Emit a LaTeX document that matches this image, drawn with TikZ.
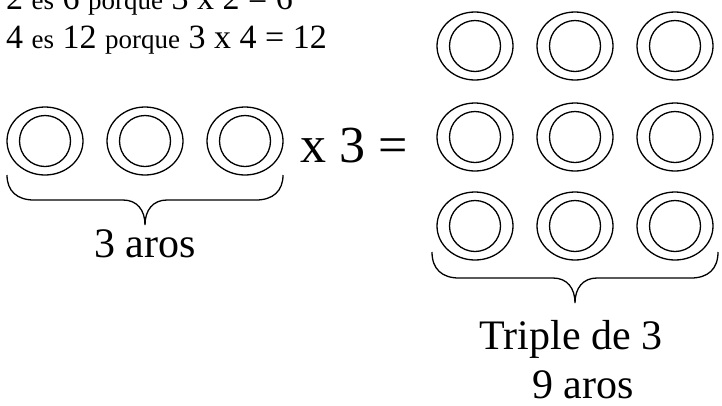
\documentclass[tikz,border=0pt]{standalone}
\usepackage{fontspec}
\setmainfont{Liberation Serif}

\newcommand\numsz{\fontsize{34}{40}\selectfont}
\newcommand\wordsz{\fontsize{27}{32}\selectfont}

\begin{document}
\begin{tikzpicture}[x=1pt, y=-1pt,
  ring/.style={line width=1.3pt},
  brc/.style={line width=1.3pt},
  top/.style={inner sep=0pt, anchor=base west},
  lbl/.style={inner sep=0pt, anchor=base, font=\fontsize{42}{48}\selectfont}]
\useasboundingbox (0,0) rectangle (722,405);
% a ring: outer ellipse and inner circle
\newcommand\aro[2]{\draw[ring] (#1,#2) ellipse [x radius=38pt, y radius=34pt]
  (#1,#2) circle [radius=25.5pt];}
\node[top] (ln1) at (6,9) {\numsz 2 {\wordsz es} 6 {\wordsz porque} 3 x 2 = 6};
\node[top] (ln2) at (6,48) {\numsz 4 {\wordsz es} 12 {\wordsz porque} 3 x 4 = 12};
% three rings on the left
\foreach \x in {45,145,245} {\aro{\x}{141}}
% nine rings on the right
\foreach \y in {46,137,226} {\foreach \x in {475,575,675} {\aro{\x}{\y}}}
\node[top, font=\fontsize{52}{60}\selectfont] (times) at (300,162) {x 3 =};
% braces
\coordinate (lbrace) at (7,175);
\coordinate (rbrace) at (432,252);
\draw[brc] (lbrace) .. controls +(0,16) and +(-17,0) .. ++(27,25) -- ++(89,0)
  .. controls +(14,0) and +(0,-15) .. ++(22,25)
  .. controls +(0,-15) and +(-14,0) .. ++(22,-25) -- ++(89,0)
  .. controls +(17,0) and +(0,16) .. ++(27,-25);
\draw[brc] (rbrace) .. controls +(0,17) and +(-17,0) .. ++(27,26) -- ++(94,0)
  .. controls +(14,0) and +(0,-15) .. ++(22,25)
  .. controls +(0,-15) and +(-14,0) .. ++(22,-25) -- ++(94,0)
  .. controls +(17,0) and +(0,17) .. ++(27,-26);
\node[lbl] (tres) at (145,257) {3 aros};
\node[lbl] (triple) at (571,349) {Triple de 3};
\node[lbl] (nueve) at (583,398) {9 aros};
\end{tikzpicture}
\end{document}
